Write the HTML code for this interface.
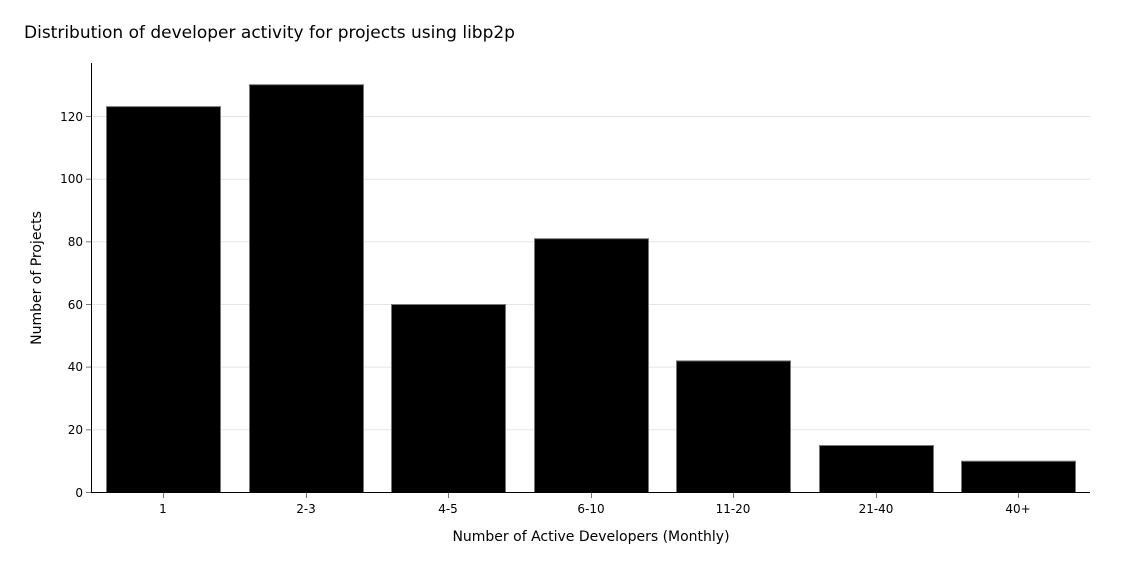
<!DOCTYPE html>
<html><head><style>body{margin:0;background:#fff}svg{display:block}text{font-family:"DejaVu Sans","Liberation Sans",sans-serif;fill:#000}</style></head>
<body>
<svg width="1144" height="567" xmlns="http://www.w3.org/2000/svg">
<text x="24" y="38" font-size="17">Distribution of developer activity for projects using libp2p</text>
<g stroke="#e5e5e5" stroke-width="1">
<line x1="92" x2="1090" y1="429.8" y2="429.8"/>
<line x1="92" x2="1090" y1="367.1" y2="367.1"/>
<line x1="92" x2="1090" y1="304.5" y2="304.5"/>
<line x1="92" x2="1090" y1="241.8" y2="241.8"/>
<line x1="92" x2="1090" y1="179.2" y2="179.2"/>
<line x1="92" x2="1090" y1="116.5" y2="116.5"/>
</g>
<g fill="#000" stroke="#777" stroke-width="1">
<rect x="106.5" y="106.6" width="114" height="385.9"/>
<rect x="249.5" y="84.7" width="114" height="407.8"/>
<rect x="391.5" y="304.5" width="114" height="188"/>
<rect x="534.5" y="238.7" width="114" height="253.8"/>
<rect x="676.5" y="360.9" width="114" height="131.6"/>
<rect x="819.5" y="445.5" width="114" height="47"/>
<rect x="961.5" y="461.2" width="114" height="31.3"/>
</g>
<line x1="91.5" x2="91.5" y1="63" y2="493" stroke="#000"/>
<line x1="91" x2="1090" y1="492.5" y2="492.5" stroke="#000"/>
<g stroke="#777">
<line x1="86" x2="91" y1="492.5" y2="492.5"/><line x1="86" x2="91" y1="429.8" y2="429.8"/><line x1="86" x2="91" y1="367.1" y2="367.1"/><line x1="86" x2="91" y1="304.5" y2="304.5"/><line x1="86" x2="91" y1="241.8" y2="241.8"/><line x1="86" x2="91" y1="179.2" y2="179.2"/><line x1="86" x2="91" y1="116.5" y2="116.5"/>
<line x1="163.5" x2="163.5" y1="493" y2="498"/><line x1="306.5" x2="306.5" y1="493" y2="498"/><line x1="448.5" x2="448.5" y1="493" y2="498"/><line x1="591.5" x2="591.5" y1="493" y2="498"/><line x1="733.5" x2="733.5" y1="493" y2="498"/><line x1="876.5" x2="876.5" y1="493" y2="498"/><line x1="1018.5" x2="1018.5" y1="493" y2="498"/>
</g>
<g font-size="12" text-anchor="end">
<text x="83" y="497">0</text><text x="83" y="434">20</text><text x="83" y="371">40</text><text x="83" y="309">60</text><text x="83" y="246">80</text><text x="83" y="183">100</text><text x="83" y="121">120</text>
</g>
<g font-size="12" text-anchor="middle">
<text x="163" y="513">1</text><text x="306" y="513">2-3</text><text x="448" y="513">4-5</text><text x="591" y="513">6-10</text><text x="733" y="513">11-20</text><text x="876" y="513">21-40</text><text x="1018" y="513">40+</text>
</g>
<text x="591" y="541" font-size="14" text-anchor="middle">Number of Active Developers (Monthly)</text>
<text transform="translate(41,278) rotate(-90)" font-size="14" text-anchor="middle">Number of Projects</text>
</svg>
</body></html>
